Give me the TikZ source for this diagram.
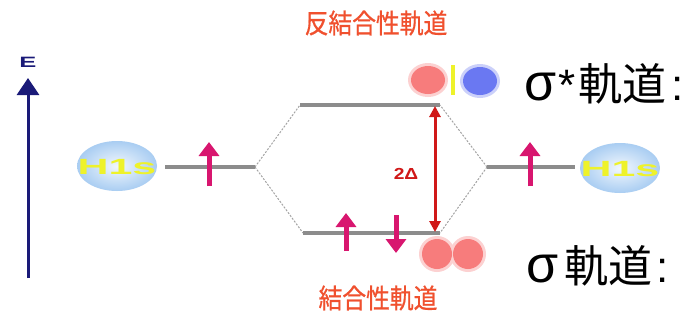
\documentclass[tikz,border=0pt]{standalone}
\usepackage{fontspec}
\setsansfont{Liberation Sans}
\newfontfamily\jpfont{Noto Sans CJK JP}
\newfontface\jpmedium{Noto Sans CJK JP}[FakeBold=0.8]
\usetikzlibrary{arrows.meta,shapes.geometric}

\definecolor{levelgray}{HTML}{8C8C8C}
\definecolor{spinpink}{HTML}{D8166F}
\definecolor{gapred}{HTML}{D01818}
\definecolor{labelred}{HTML}{F0502E}
\definecolor{axisblue}{HTML}{1A1A78}
\definecolor{shellblue}{HTML}{A9CDF2}
\definecolor{lobered}{HTML}{F77C7C}
\definecolor{lobeblue}{HTML}{6A78F2}
\definecolor{nodeyellow}{HTML}{EEF22A}

\tikzset{
  x=1pt, y=-1pt,
  level/.style={draw=levelgray, line width=4pt},
  corr/.style={draw=levelgray!80, line width=1pt, dash pattern=on 2pt off 1.5pt},
  spin/.style={draw=spinpink, line width=5pt, -{Triangle[width=20pt,length=14pt]}},
  atomic/.style={ellipse, minimum width=80pt, minimum height=50pt, inner sep=0pt,
    inner color=white!85!shellblue, outer color=shellblue},
  atomlabel/.style={font=\sffamily\bfseries\fontsize{22}{22}\selectfont, text=nodeyellow},
  lobe/.style={ellipse, inner sep=0pt},
  redlabel/.style={font=\jpmedium\fontsize{27}{27}\selectfont, text=labelred},
  biglabel/.style={font=\fontsize{44}{44}\selectfont, text=black, anchor=west, inner sep=0pt},
}

\begin{document}
\begin{tikzpicture}
\useasboundingbox (0,0) rectangle (696,322);
\fill[white] (0,0) rectangle (696,322);

% energy axis
\coordinate (ebot) at (28,278);
\coordinate (etop) at (28,78);
\draw[draw=axisblue, line width=3pt, -{Triangle[width=22pt,length=17pt]}] (ebot) -- (etop);
\node[font=\sffamily\bfseries\fontsize{15}{15}\selectfont, text=axisblue] (elabel) at (28,62) {\scalebox{1.7}[1]{E}};

% atomic orbitals
\node[atomic] (hleft) at (117,166) {};
\node[atomlabel] (hleftt) at (117,167) {\scalebox{1.95}[1]{H1s}};
\node[atomic] (hright) at (620,168) {};
\node[atomlabel] (hrightt) at (620,169) {\scalebox{1.95}[1]{H1s}};

% energy levels
\coordinate (la) at (165,167);
\coordinate (lb) at (255,167);
\coordinate (ra) at (487,167);
\coordinate (rb) at (575,167);
\coordinate (ta) at (300,105);
\coordinate (tb) at (440,105);
\coordinate (ba) at (303,233);
\coordinate (bb) at (440,233);

\draw[corr] (lb) -- (ta);
\draw[corr] (lb) -- (ba);
\draw[corr] (ra) -- (tb);
\draw[corr] (ra) -- (bb);

\draw[level] (la) -- (lb);
\draw[level] (ra) -- (rb);
\draw[level] (ta) -- (tb);
\draw[level] (ba) -- (bb);

% electron spins
\coordinate (s1a) at (209,186);
\coordinate (s1b) at (209,142);
\coordinate (s2a) at (530,186);
\coordinate (s2b) at (530,142);
\coordinate (s3a) at (346,251);
\coordinate (s3b) at (346,213);
\coordinate (s4a) at (396,215);
\coordinate (s4b) at (396,253);
\draw[spin] (s1a) -- (s1b);
\draw[spin] (s2a) -- (s2b);
\draw[spin] (s3a) -- (s3b);
\draw[spin] (s4a) -- (s4b);

% splitting
\coordinate (gtop) at (435,106);
\coordinate (gbot) at (435,232);
\draw[draw=gapred, line width=3pt, {Triangle[width=11pt,length=11pt]}-{Triangle[width=11pt,length=11pt]}] (gbot) -- (gtop);
\node[font=\sffamily\bfseries\fontsize{16}{16}\selectfont, text=gapred] (gap) at (406,174) {\scalebox{1.2}[1]{2Δ}};

% antibonding lobes
\node[lobe, fill=lobered!35, minimum width=40pt, minimum height=34pt] (ar0) at (428,80) {};
\node[lobe, fill=lobered, minimum width=34pt, minimum height=28pt] (ar) at (428,80) {};
\node[lobe, fill=lobeblue!35, minimum width=40pt, minimum height=34pt] (ab0) at (480,81) {};
\node[lobe, fill=lobeblue, minimum width=34pt, minimum height=28pt] (ab) at (480,81) {};
\node[fill=nodeyellow, minimum width=4pt, minimum height=30pt, inner sep=0pt] (node) at (453,80) {};

% bonding lobes
\fill[lobered!35] (437,254) circle (18) (468,254) circle (18);
\node[lobe, fill=lobered, minimum size=30pt] (bl) at (437,254) {};
\node[lobe, fill=lobered, minimum size=30pt] (br) at (468,254) {};

% labels
\node[redlabel] (antilab) at (376,23) {\scalebox{0.88}[1]{反結合性軌道}};
\node[redlabel] (bondlab) at (378,298) {\scalebox{0.88}[1]{結合性軌道}};
\node[biglabel] (sigstar) at (524,84) {\sffamily{\fontsize{52}{52}\selectfont σ}\hspace{2pt}*\hspace{3pt}\jpfont 軌道\hspace{5pt}\sffamily :};
\node[biglabel] (sig) at (526,266) {\sffamily{\fontsize{52}{52}\selectfont σ}\hspace{6pt}\jpfont 軌道\hspace{4pt}\sffamily :};
\end{tikzpicture}
\end{document}
